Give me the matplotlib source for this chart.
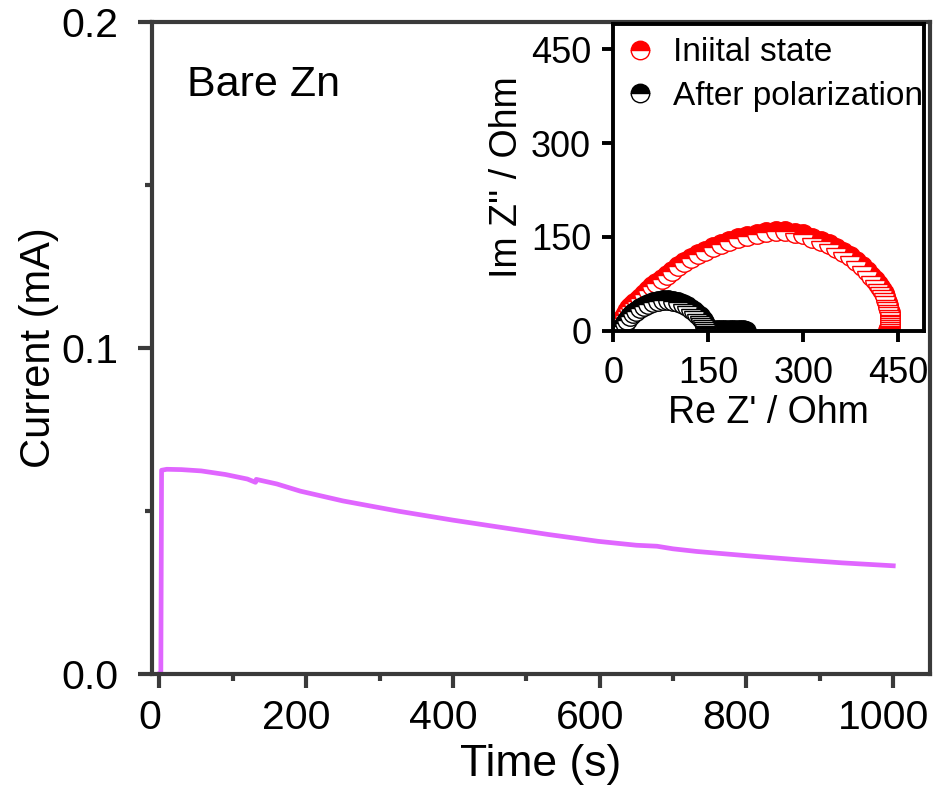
import matplotlib
matplotlib.use("Agg")
import matplotlib.pyplot as plt
import matplotlib.transforms as mtransforms
from matplotlib.ticker import MultipleLocator, FormatStrFormatter

plt.rcParams['font.family'] = ['Liberation Sans', 'DejaVu Sans']

# polarization current of bare Zn
time_s = [0, 2, 3, 10, 30, 57, 90, 120, 131, 132, 160, 192, 250, 327, 400, 462,
          530, 598, 650, 678, 700, 732, 800, 868, 930, 1000]
current_mA = [0.0, 0.0, 0.0625, 0.0628, 0.0627, 0.0623, 0.0612, 0.0598, 0.0588, 0.0597,
              0.0583, 0.0561, 0.0531, 0.0499, 0.0472, 0.0451, 0.0428, 0.0407, 0.0395,
              0.0392, 0.0384, 0.0376, 0.0363, 0.0351, 0.0341, 0.0332]

# Nyquist plot, initial state
re_init = [8, 9, 11, 13, 15, 18, 21, 24, 28, 32, 37, 42, 48, 54, 61, 68, 76, 84, 93,
           102, 112, 122, 133, 145, 157, 170, 183, 197, 211, 226, 241, 256, 271, 286,
           300, 314, 327, 340, 352, 363, 373, 383, 392, 400, 407, 413, 418, 421, 424,
           427, 429, 431, 432, 433, 434, 435, 436, 436, 437, 437, 437, 437, 437, 436,
           436, 435, 434]
im_init = [3, 7, 11, 16, 21, 26, 31, 36, 40, 44, 48, 53, 59, 65, 71, 77, 83, 89, 96,
           103, 110, 116, 122, 128, 134, 139, 144, 149, 152, 155, 158, 159, 159, 157,
           154, 149, 144, 139, 133, 126, 119, 111, 103, 95, 87, 81, 75, 70, 65,
           60, 55, 50, 46, 42, 38, 34, 30, 26, 23, 20, 17, 14, 11, 8,
           6, 4, 2]

# Nyquist plot, after polarization
re_pol = [12, 15, 18, 22, 26, 31, 36, 42, 48, 55, 62, 70, 78, 86, 94, 102, 110, 117,
          123, 128, 132, 136, 139, 141, 143, 144, 145, 146, 147, 148, 150, 156, 163,
          170, 177, 184, 191, 198, 205, 210]
im_pol = [3, 8, 13, 18, 23, 28, 32, 36, 40, 43, 46, 48, 49, 49, 48, 46, 43, 39,
          35, 31, 27, 23, 20, 17, 14, 11, 8, 6, 4, 2, 1, 1, 1,
          1.5, 1.5, 1.5, 1.5, 1, 1, 0.5]

fig = plt.figure(figsize=(9.35, 8.05), dpi=100)
ax = fig.add_axes([0.1626, 0.1627, 0.832, 0.81])

ax.plot(time_s, current_mA, color='#e066ff', lw=3.4)
ax.set_xlim(-10, 1050)
ax.set_ylim(0, 0.2)
ax.xaxis.set_major_locator(MultipleLocator(200))
ax.xaxis.set_minor_locator(MultipleLocator(100))
ax.yaxis.set_major_locator(MultipleLocator(0.1))
ax.yaxis.set_minor_locator(MultipleLocator(0.05))
ax.yaxis.set_major_formatter(FormatStrFormatter('%.1f'))
ax.tick_params(which='major', direction='out', length=10, width=3,
               labelsize=29.5, color='#3a3a3a', top=False, right=False)
ax.tick_params(which='minor', direction='out', length=5, width=3,
               color='#3a3a3a', top=False, right=False)
ax.tick_params(axis='x', which='major', pad=8)
ax.tick_params(axis='y', which='major', pad=14)
# x labels sit a little left of their ticks
shift = mtransforms.ScaledTranslation(-10 / 100, 0, fig.dpi_scale_trans)
for lab in ax.get_xticklabels():
    lab.set_transform(lab.get_transform() + shift)
for s in ax.spines.values():
    s.set_linewidth(3)
    s.set_color('#3a3a3a')
ax.set_xlabel('Time (s)', fontsize=32, labelpad=5)
ax.set_ylabel('Current (mA)', fontsize=30, labelpad=2)
ax.text(0.045, 0.903, 'Bare Zn', transform=ax.transAxes, fontsize=31,
        va='center', ha='left')

# inset: impedance spectra
ins = fig.add_axes([0.656, 0.589, 0.332, 0.381])
ins.plot(re_init, im_init, ls='none', marker='o', ms=14, fillstyle='top',
         color='red', markerfacecoloralt='white', mec='red', mew=1,
         label='Iniital state')
ins.plot(re_pol, im_pol, ls='none', marker='o', ms=14, fillstyle='top',
         color='black', markerfacecoloralt='white', mec='black', mew=1,
         label='After polarization')
ins.set_xlim(0, 490)
ins.set_ylim(0, 490)
ins.set_xticks([0, 150, 300, 450])
ins.set_yticks([0, 150, 300, 450])
ins.tick_params(direction='out', length=8, width=2.8, labelsize=26)
ins.tick_params(axis='x', pad=10)
ins.tick_params(axis='y', pad=8)
for s in ins.spines.values():
    s.set_linewidth(2.8)
ins.set_xlabel("Re Z' / Ohm", fontsize=27, labelpad=3)
ins.set_ylabel("Im Z'' / Ohm", fontsize=27, labelpad=4)
ins.legend(loc='upper left', frameon=False, fontsize=24, handletextpad=0.6,
           borderaxespad=0.2, labelspacing=0.38, markerscale=0.95,
           handlelength=0.8, borderpad=0.2)

fig.savefig('out.png', dpi=100)
